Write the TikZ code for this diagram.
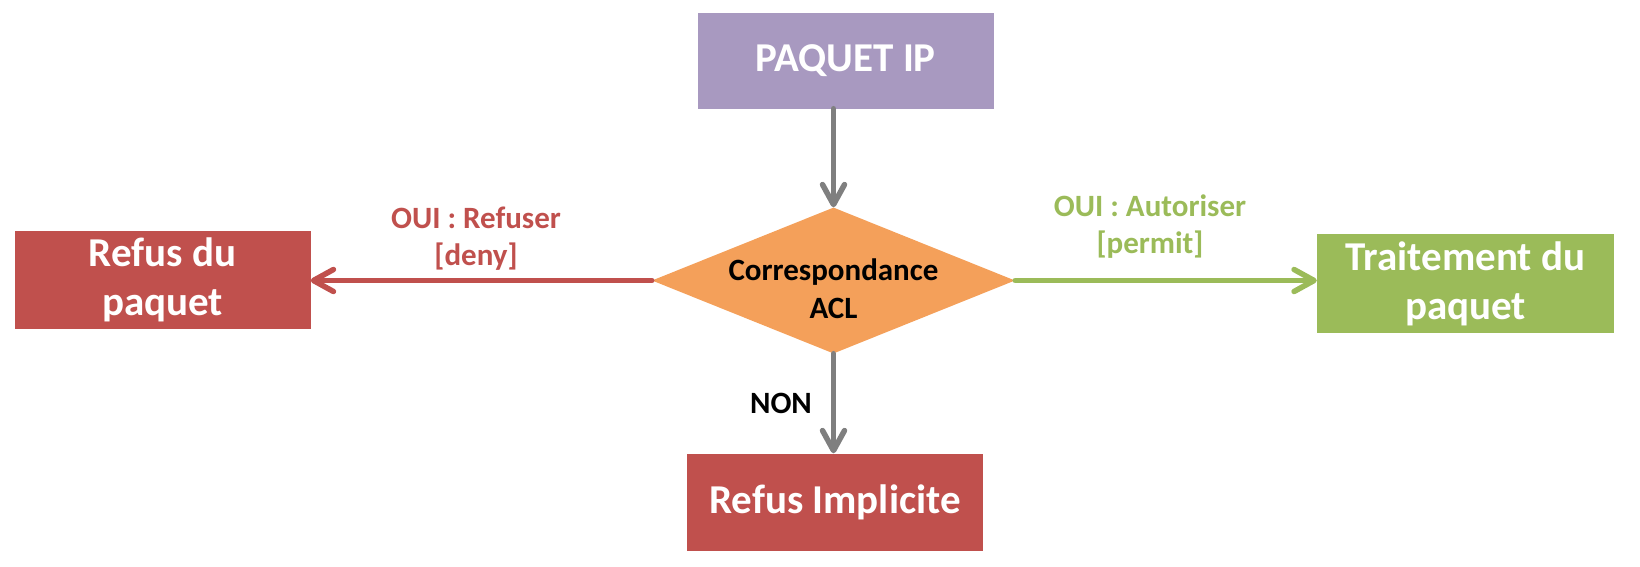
\documentclass[tikz,border=0pt]{standalone}
\usepackage{fontspec}
\setmainfont{Carlito}
\usetikzlibrary{shapes.geometric,arrows.meta}
\definecolor{cpurple}{HTML}{A899C0}
\definecolor{corange}{HTML}{F4A05A}
\definecolor{cred}{HTML}{C0504D}
\definecolor{cgreen}{HTML}{9BBB59}
\definecolor{cgray}{HTML}{7F7F7F}
\tikzset{
  box/.style={rectangle, draw=none, inner sep=0pt, text=white, align=center,
    font=\fontsize{41}{49}\selectfont\bfseries},
  dia/.style={diamond, draw=none, fill=corange, inner sep=0pt,
    minimum width=363pt, minimum height=146pt},
  diatext/.style={align=center, text=black, inner sep=0pt,
    font=\fontsize{31}{38}\selectfont\bfseries},
  lbl/.style={align=center, inner sep=0pt, font=\fontsize{31}{37}\selectfont\bfseries},
  conn/.style={line width=5.5pt, line cap=round,
    -{Straight Barb[length=20pt,width=22pt,round]}},
}
\begin{document}
\begin{tikzpicture}[x=1pt,y=-1pt]
\useasboundingbox (0,0) rectangle (1640,566);
\node[box, fill=cpurple, minimum width=296pt, minimum height=96pt] (ip) at (845.5,60.5) {PAQUET IP};
\node[dia] (acl) at (833.5,280.5) {};
\node[diatext] (acltext) at (833.5,288.5) {Correspondance\\ACL};
\node[box, fill=cred, minimum width=296pt, minimum height=98pt] (deny) at (162.5,280) {Refus du\\paquet};
\node[box, fill=cgreen, minimum width=297pt, minimum height=99pt] (permit) at (1465.5,283.5) {Traitement du\\paquet};
\node[box, fill=cred, minimum width=296pt, minimum height=97pt] (impl) at (835,502) {Refus Implicite};
\draw[conn, cgray] (ip.south -| acl.north) -- (acl.north);
\draw[conn, cred] (acl.west) -- (acl.west -| deny.east);
\draw[conn, cgreen] (acl.east) -- (acl.east -| permit.west);
\draw[conn, cgray] (acl.south) -- (acl.south |- impl.north);
\node[lbl, text=cred] (lbldeny) at (476,239) {OUI : Refuser\\{[deny]}};
\node[lbl, text=cgreen] (lblpermit) at (1150,227) {OUI : Autoriser\\{[permit]}};
\node[lbl, text=black] (lblnon) at (781,403) {NON};
\end{tikzpicture}
\end{document}
